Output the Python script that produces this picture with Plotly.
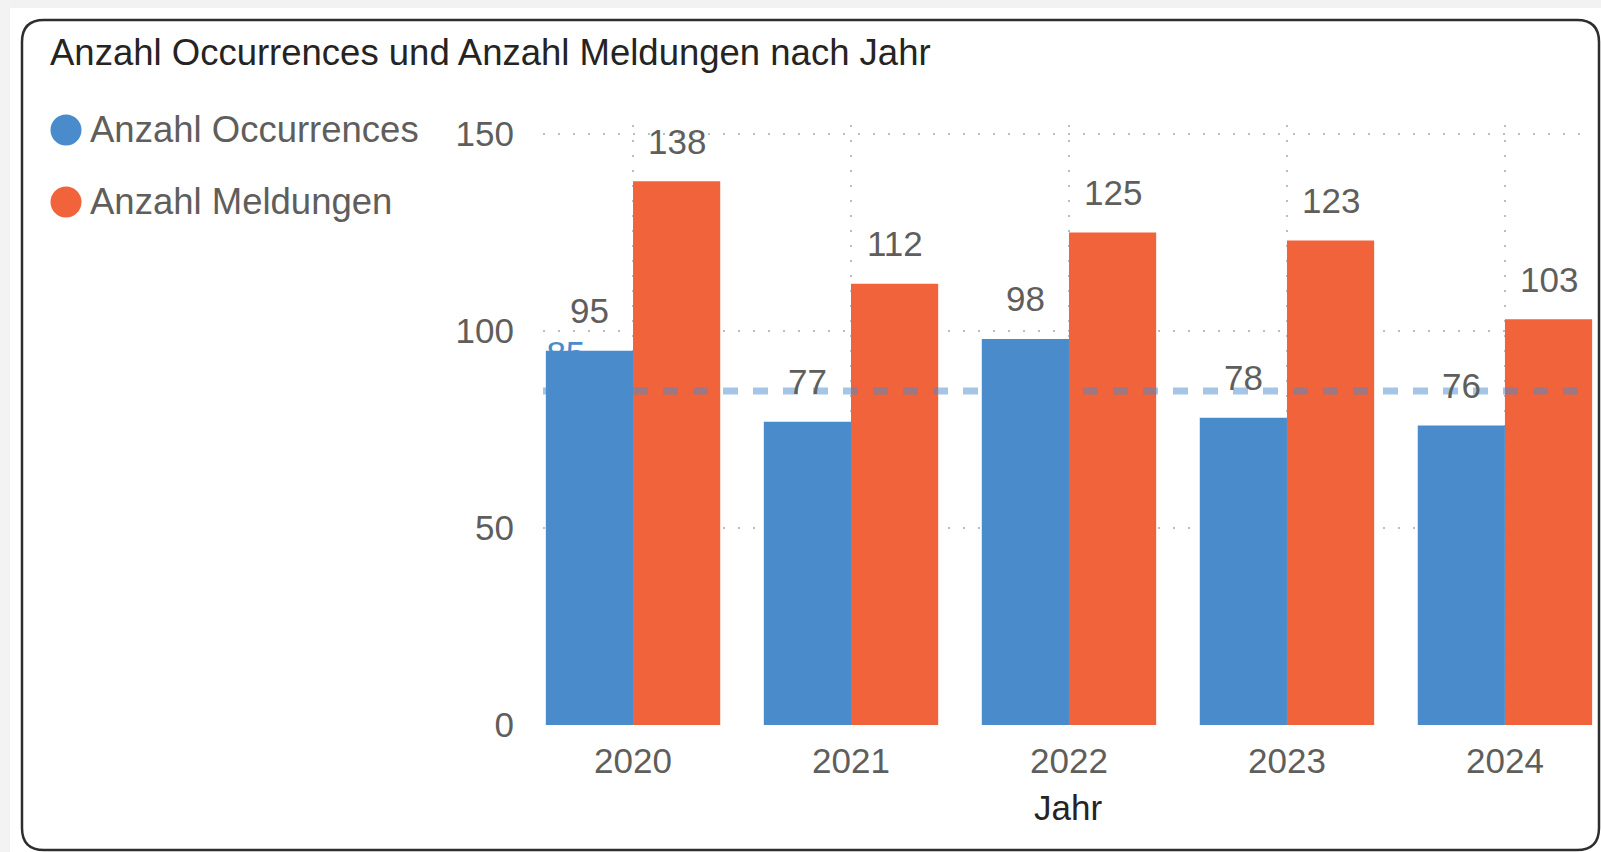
import plotly.graph_objects as go

# ---------------- data ----------------
years = ["2020", "2021", "2022", "2023", "2024"]
occurrences = [95, 77, 98, 78, 76]
meldungen = [138, 112, 125, 123, 103]
series_names = ["Anzahl Occurrences", "Anzahl Meldungen"]
y_tickvals = [0, 50, 100, 150]
title_text = "Anzahl Occurrences und Anzahl Meldungen nach Jahr"
x_title = "Jahr"

# ---------------- style ----------------
BLUE = "#4A8CCB"
ORANGE = "#F1633A"
AVG_COLOR = "rgba(74,140,203,0.5)"
GRID = "#BDBDBD"
TXT = "#605E5C"
DARK = "#252423"
FONT = "Liberation Sans, Arial, sans-serif"
W, H = 1601, 852

# plot area in pixels
PL, PR, PT, PB = 543, 1593, 125, 725
x_range = [-0.413, 4.404]
y_range = [0, 152.3]
BAR_W = 0.4
AVG_LABEL_INSET = 0.105  # category units from the left edge of the plot

def px(x):
    return x / W

def py(y):
    return 1 - y / H

idx = list(range(len(years)))
avg = sum(occurrences) / len(occurrences)

fig = go.Figure()

# orange bars on main subplot (below the average line)
fig.add_trace(go.Bar(
    x=idx, y=meldungen, name=series_names[1],
    marker=dict(color=ORANGE, line=dict(width=0)),
    width=BAR_W, offset=0, xaxis="x", yaxis="y", hoverinfo="skip",
))
# average line + its label (drawn above orange, below blue)
fig.add_trace(go.Scatter(
    x=x_range, y=[avg, avg], mode="lines",
    line=dict(color=AVG_COLOR, width=7, dash="15px,15px"),
    xaxis="x", yaxis="y", hoverinfo="skip", cliponaxis=False,
))
fig.add_trace(go.Scatter(
    x=[x_range[0] + AVG_LABEL_INSET], y=[avg], mode="markers+text",
    text=[str(round(avg))], textposition="top center",
    marker=dict(size=24, opacity=0),
    textfont=dict(color=BLUE, size=35, family=FONT),
    xaxis="x", yaxis="y", hoverinfo="skip", cliponaxis=False,
))
# blue bars on overlaying subplot (drawn on top)
fig.add_trace(go.Bar(
    x=idx, y=occurrences, name=series_names[0],
    marker=dict(color=BLUE, line=dict(width=0)),
    width=BAR_W, offset=-BAR_W, xaxis="x", yaxis="y2", hoverinfo="skip",
))

annotations = []
# data labels
for i, v in enumerate(occurrences):
    annotations.append(dict(x=i - BAR_W / 2, y=v, xref="x", yref="y", text=str(v),
                            showarrow=False, yshift=40, yanchor="middle",
                            font=dict(size=35, color=TXT, family=FONT)))
for i, v in enumerate(meldungen):
    annotations.append(dict(x=i + BAR_W / 2, y=v, xref="x", yref="y", text=str(v),
                            showarrow=False, yshift=40, yanchor="middle",
                            font=dict(size=35, color=TXT, family=FONT)))
# title
annotations.append(dict(x=px(48), y=py(53), xref="paper", yref="paper", text=title_text,
                        showarrow=False, xanchor="left", yanchor="middle",
                        font=dict(size=36.5, color=DARK, family=FONT)))
# x axis title
annotations.append(dict(x=(PL + PR) / 2 / W, y=py(807), xref="paper", yref="paper", text=x_title,
                        showarrow=False, xanchor="center", yanchor="middle",
                        font=dict(size=35, color=DARK, family=FONT)))

shapes = []
# page background strips
shapes.append(dict(type="rect", xref="paper", yref="paper", x0=0, x1=1, y0=py(8), y1=1,
                   fillcolor="#F2F2F2", line=dict(width=0), layer="below"))
shapes.append(dict(type="rect", xref="paper", yref="paper", x0=0, x1=px(10), y0=0, y1=1,
                   fillcolor="#F3F3F3", line=dict(width=0), layer="below"))
# card with rounded corners
cx0, cy0, cx1, cy1, r = 22, 20, 1599, 850, 22
pts = [
    ("M", cx0 + r, cy0), ("L", cx1 - r, cy0), ("Q", cx1, cy0, cx1, cy0 + r),
    ("L", cx1, cy1 - r), ("Q", cx1, cy1, cx1 - r, cy1), ("L", cx0 + r, cy1),
    ("Q", cx0, cy1, cx0, cy1 - r), ("L", cx0, cy0 + r), ("Q", cx0, cy0, cx0 + r, cy0),
]
path = ""
for p in pts:
    cmd, coords = p[0], p[1:]
    pairs = [f"{px(coords[k]):.5f},{py(coords[k + 1]):.5f}" for k in range(0, len(coords), 2)]
    path += cmd + " " + " ".join(pairs) + " "
path += "Z"
shapes.append(dict(type="path", xref="paper", yref="paper", path=path,
                   fillcolor="white", line=dict(color="#2E2E2E", width=2.5), layer="below"))

# custom legend
legend_colors = [BLUE, ORANGE]
legend_y = [130, 202]
for name, col, ly in zip(series_names, legend_colors, legend_y):
    shapes.append(dict(type="circle", xref="paper", yref="paper",
                       x0=px(50.5), x1=px(81.5), y0=py(ly + 15.5), y1=py(ly - 15.5),
                       fillcolor=col, line=dict(width=0), layer="above"))
    annotations.append(dict(x=px(88), y=py(ly), xref="paper", yref="paper", text=name,
                            showarrow=False, xanchor="left", yanchor="middle",
                            font=dict(size=36.5, color=TXT, family=FONT)))

fig.update_layout(
    width=W, height=H, autosize=False,
    margin=dict(l=0, r=0, t=0, b=0, pad=0, autoexpand=False),
    paper_bgcolor="white", plot_bgcolor="rgba(0,0,0,0)",
    showlegend=False, barmode="overlay",
    font=dict(family=FONT, color=TXT),
    xaxis=dict(domain=[px(PL), px(PR)], range=x_range, tickvals=idx, ticktext=years,
               showgrid=True, gridcolor=GRID, gridwidth=1.5, griddash="2px,13px",
               zeroline=False, showline=False, ticks="", automargin=False,
               tickfont=dict(size=35, color=TXT, family=FONT), ticklabelstandoff=12),
    yaxis=dict(domain=[py(PB), py(PT)], range=y_range, tickvals=y_tickvals,
               showgrid=True, gridcolor=GRID, gridwidth=1.5, griddash="2px,13px",
               zeroline=False, showline=False, ticks="", automargin=False,
               tickfont=dict(size=35, color=TXT, family=FONT), ticklabelstandoff=28),
    yaxis2=dict(overlaying="y", range=y_range, visible=False, showgrid=False, automargin=False),
    annotations=annotations,
    shapes=shapes,
)

fig.write_html("out.html", config={"displayModeBar": False},
               post_script="document.body.style.margin='0';document.body.style.overflow='hidden';")
